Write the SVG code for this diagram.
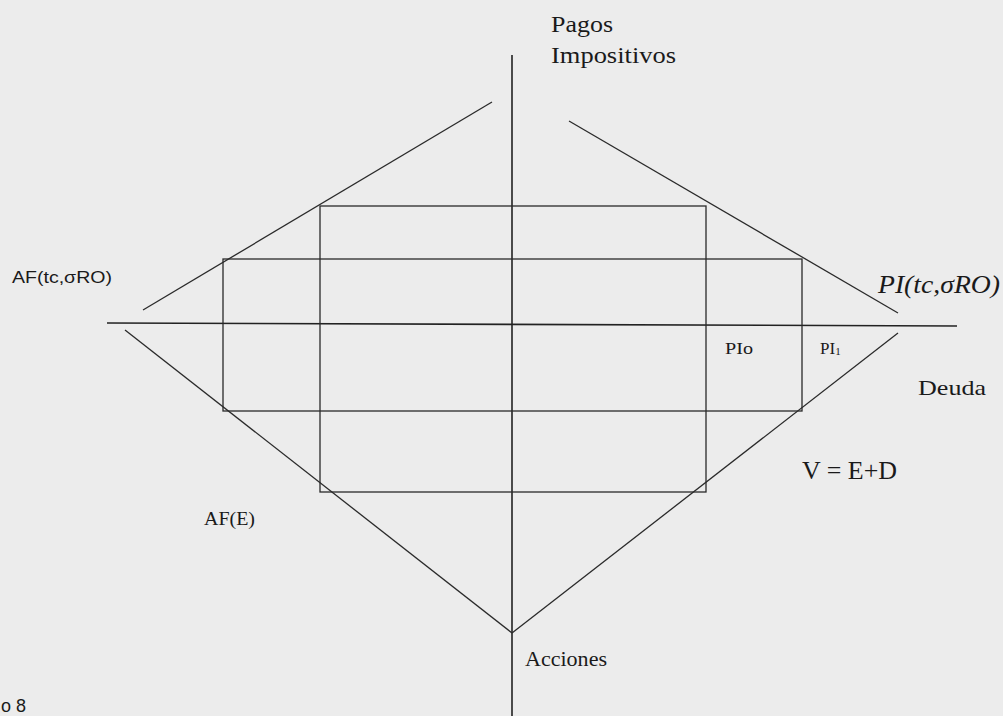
<svg xmlns="http://www.w3.org/2000/svg" width="1003" height="716" viewBox="0 0 1003 716">
<style>
.ln{stroke:#2a2a2a;stroke-width:1.3;fill:none}
.ax{stroke:#222;stroke-width:1.6;fill:none}
.s{font-family:"Liberation Serif",serif;fill:#1a1a1a}
.a{font-family:"Liberation Sans",sans-serif;fill:#1a1a1a}
</style>
<rect width="1003" height="716" fill="#ececec"/>
<g id="axes">
<line class="ax" x1="512" y1="55" x2="512" y2="716"/>
<line class="ax" x1="107" y1="323" x2="957" y2="326"/>
</g>
<g id="connectors">
<line class="ln" x1="143" y1="310" x2="492" y2="102"/>
<line class="ln" x1="569" y1="121" x2="898" y2="313"/>
<line class="ln" x1="125" y1="330" x2="512" y2="633"/>
<line class="ln" x1="512" y1="633" x2="898" y2="333"/>
</g>
<g id="rect-inner"><rect class="ln" x="320" y="206" width="386" height="286"/></g>
<g id="rect-outer"><rect class="ln" x="223" y="259" width="579" height="152"/></g>
<g id="labels">
<text class="s" x="551" y="32" font-size="24" textLength="62" lengthAdjust="spacingAndGlyphs">Pagos</text>
<text class="s" x="551" y="63" font-size="24" textLength="125" lengthAdjust="spacingAndGlyphs">Impositivos</text>
<text class="a" x="12" y="283" font-size="17" textLength="100" lengthAdjust="spacingAndGlyphs">AF(tc,σRO)</text>
<text class="s" x="878" y="293" font-size="25" font-style="italic" textLength="122" lengthAdjust="spacingAndGlyphs">PI(tc,σRO)</text>
<text class="s" x="725" y="354" font-size="17" textLength="28" lengthAdjust="spacingAndGlyphs">PIo</text>
<text class="s" x="820" y="354" font-size="17">PI<tspan font-size="11" dy="1">1</tspan></text>
<text class="s" x="918" y="395" font-size="21" textLength="68" lengthAdjust="spacingAndGlyphs">Deuda</text>
<text class="s" x="802" y="479" font-size="25" textLength="95" lengthAdjust="spacingAndGlyphs">V = E+D</text>
<text class="s" x="204" y="525" font-size="18" textLength="51" lengthAdjust="spacingAndGlyphs">AF(E)</text>
<text class="s" x="525" y="666" font-size="22" textLength="82" lengthAdjust="spacingAndGlyphs">Acciones</text>
<text class="a" x="1" y="712" font-size="18">o 8</text>
</g>
</svg>
